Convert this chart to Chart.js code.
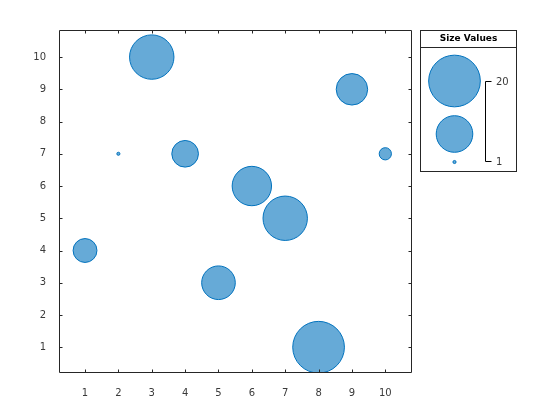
<!DOCTYPE html>
<html>
<head>
<meta charset="utf-8">
<script src="https://cdn.jsdelivr.net/npm/chart.js@4.4.1/dist/chart.umd.min.js"></script>
<style>
  body { margin: 0; background: #fff; }
  canvas { display: block; }
</style>
</head>
<body>
<canvas id="chart" width="560" height="420"></canvas>
<script>
// data
const xValues = [1, 2, 3, 4, 5, 6, 7, 8, 9, 10];
const yValues = [4, 7, 10, 7, 3, 6, 5, 1, 9, 7];
const sizeValues = [5, 1, 15, 6, 9, 12, 15, 20, 8, 2];
const xTicks = [1, 2, 3, 4, 5, 6, 7, 8, 9, 10];
const yTicks = [1, 2, 3, 4, 5, 6, 7, 8, 9, 10];
const legendTitle = "Size Values";

const AXIS = "#262626";
const TEXT = "#3a3a3a";
const FACE = "rgba(0,114,189,0.6)";
const EDGE = "#0072BD";
const FONT = "DejaVu Sans";

const sMin = Math.min(...sizeValues);
const sMax = Math.max(...sizeValues);
const dMin = 3.1, dMax = 51.7;

// bubble area scales linearly with size
function radiusFor(s) {
  const t = (s - sMin) / (sMax - sMin);
  return Math.sqrt(dMin * dMin + t * (dMax * dMax - dMin * dMin)) / 2;
}

/* ===============================
   AXES BOX + INWARD TICKS
================================ */

const boxPlugin = {
  id: "box",
  afterDatasetsDraw(chart) {
    const { ctx, chartArea: a, scales } = chart;
    const tl = 3.5;
    ctx.save();
    ctx.strokeStyle = AXIS;
    ctx.lineWidth = 1;
    ctx.beginPath();
    ctx.rect(a.left + 0.5, a.top + 0.5, a.right - a.left - 1, a.bottom - a.top - 1);
    scales.x.ticks.forEach(t => {
      const px = Math.round(scales.x.getPixelForValue(t.value)) + 0.5;
      ctx.moveTo(px, a.bottom);
      ctx.lineTo(px, a.bottom - tl);
      ctx.moveTo(px, a.top);
      ctx.lineTo(px, a.top + tl);
    });
    scales.y.ticks.forEach(t => {
      const py = Math.round(scales.y.getPixelForValue(t.value)) + 0.5;
      ctx.moveTo(a.left, py);
      ctx.lineTo(a.left + tl, py);
      ctx.moveTo(a.right, py);
      ctx.lineTo(a.right - tl, py);
    });
    ctx.stroke();
    ctx.restore();
  }
};

/* ===============================
   BUBBLE SIZE LEGEND
================================ */

const sizeLegend = {
  id: "sizeLegend",
  afterDraw(chart) {
    const ctx = chart.ctx;
    const L = 420.5, T = 30.5, W = 96, H = 141;
    const cx = 454.5;
    ctx.save();
    ctx.strokeStyle = AXIS;
    ctx.lineWidth = 1;
    ctx.strokeRect(L, T, W, H);
    ctx.beginPath();
    ctx.moveTo(L, 47.5);
    ctx.lineTo(L + W, 47.5);
    ctx.stroke();

    ctx.fillStyle = "#000";
    ctx.font = "bold 9px '" + FONT + "'";
    ctx.textAlign = "center";
    ctx.textBaseline = "middle";
    ctx.fillText(legendTitle, L + W / 2, 39);

    const items = [
      { s: sMax, y: 81 },
      { s: (sMax + sMin) / 2, y: 134 },
      { s: sMin, y: 162 }
    ];
    items.forEach(it => {
      ctx.beginPath();
      ctx.arc(cx, it.y, radiusFor(it.s), 0, Math.PI * 2);
      ctx.fillStyle = FACE;
      ctx.fill();
      ctx.strokeStyle = EDGE;
      ctx.stroke();
    });

    // bracket
    ctx.strokeStyle = "#000";
    ctx.beginPath();
    ctx.moveTo(491.5, 81.5);
    ctx.lineTo(485.5, 81.5);
    ctx.lineTo(485.5, 161.5);
    ctx.lineTo(491.5, 161.5);
    ctx.stroke();

    ctx.fillStyle = TEXT;
    ctx.font = "10px '" + FONT + "'";
    ctx.textAlign = "left";
    ctx.fillText(String(sMax), 496, 82);
    ctx.fillText(String(sMin), 496, 162);
    ctx.restore();
  }
};

const points = xValues.map((x, i) => ({ x: x, y: yValues[i], r: radiusFor(sizeValues[i]) }));

new Chart(document.getElementById("chart"), {
  type: "bubble",
  data: {
    datasets: [{
      data: points,
      backgroundColor: FACE,
      borderColor: EDGE,
      borderWidth: 1,
      hoverRadius: 0
    }]
  },
  options: {
    responsive: false,
    animation: false,
    devicePixelRatio: 1,
    layout: { padding: { top: 30, right: 148, left: 0, bottom: 0 } },
    plugins: {
      legend: { display: false },
      tooltip: { enabled: false }
    },
    scales: {
      x: {
        type: "linear",
        min: 0.22,
        max: 10.8,
        grid: { display: false },
        border: { display: false },
        ticks: {
          color: TEXT,
          padding: 6,
          font: { family: FONT, size: 10 }
        },
        afterBuildTicks: s => { s.ticks = xTicks.map(v => ({ value: v })); },
        afterFit: s => { s.height = 47; }
      },
      y: {
        type: "linear",
        min: 0.2,
        max: 10.84,
        grid: { display: false },
        border: { display: false },
        ticks: {
          color: TEXT,
          padding: 5,
          font: { family: FONT, size: 10 }
        },
        afterBuildTicks: s => { s.ticks = yTicks.map(v => ({ value: v })); },
        afterFit: s => { s.width = 59; }
      }
    }
  },
  plugins: [boxPlugin, sizeLegend]
});
</script>
</body>
</html>
